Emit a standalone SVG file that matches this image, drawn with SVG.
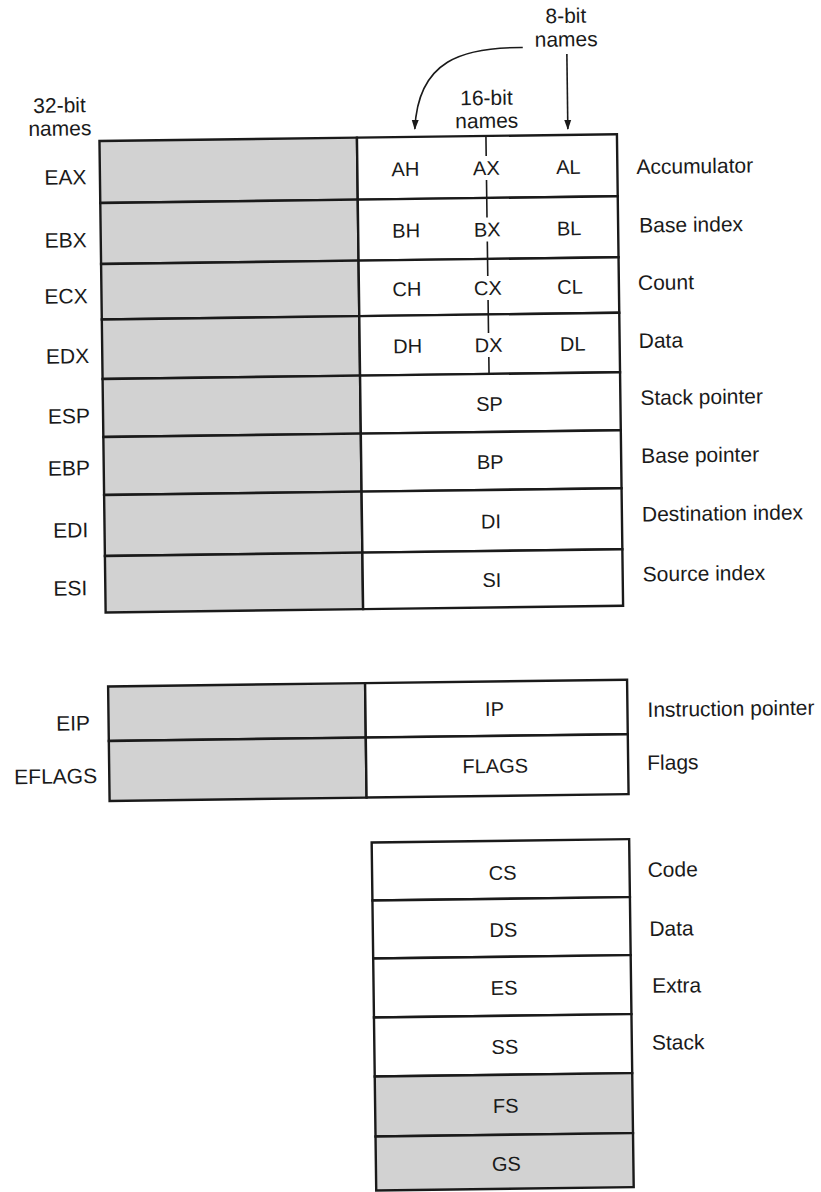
<svg xmlns="http://www.w3.org/2000/svg" width="821" height="1192" viewBox="0 0 821 1192">
<defs>
<style>
.t{font-family:"Liberation Sans",Arial,Helvetica,sans-serif;font-size:21px;fill:#1a1a1a}
.c{text-anchor:middle}
.e{text-anchor:end}
.i{font-size:20px;text-anchor:middle}
.sh{fill:#d2d2d2;stroke:#1a1a1a;stroke-width:2.4}
.wh{fill:#ffffff;stroke:#1a1a1a;stroke-width:2.4}
.vl{stroke:#1a1a1a;stroke-width:1.6;fill:none}
.ar{stroke:#1a1a1a;stroke-width:1.6;fill:none;marker-end:url(#ah)}
</style>
<marker id="ah" viewBox="0 0 10 10" refX="9" refY="5" markerWidth="10" markerHeight="10" markerUnits="userSpaceOnUse" orient="auto">
<path d="M0,1.5 L10,5 L0,8.5 z" fill="#1a1a1a"/>
</marker>
</defs>
<rect x="0" y="0" width="821" height="1192" fill="#ffffff"/>
<g transform="rotate(-0.75 410 600)">
<g id="headings">
<text class="t c" x="66" y="108">32-bit</text>
<text class="t c" x="66" y="131">names</text>
<text class="t c" x="493" y="106">16-bit</text>
<text class="t c" x="493" y="129">names</text>
<text class="t c" x="573.5" y="25">8-bit</text>
<text class="t c" x="573.5" y="48.5">names</text>
</g>
<g id="reg-eax">
<rect class="sh" x="105.5" y="137" width="257.5" height="62"/>
<rect class="wh" x="363" y="137" width="260" height="62"/>
<text class="t e" x="92" y="180">EAX</text>
<text class="t i" x="411" y="176">AH</text>
<text class="t i" x="492" y="176">AX</text>
<text class="t i" x="574" y="176">AL</text>
<text class="t" x="642" y="177">Accumulator</text>
</g>
<g id="reg-ebx">
<rect class="sh" x="105.5" y="199" width="257.5" height="61"/>
<rect class="wh" x="363" y="199" width="260" height="61"/>
<text class="t e" x="91.5" y="243">EBX</text>
<text class="t i" x="411" y="237.5">BH</text>
<text class="t i" x="492" y="237.5">BX</text>
<text class="t i" x="574" y="237.5">BL</text>
<text class="t" x="644" y="235.5">Base index</text>
</g>
<g id="reg-ecx">
<rect class="sh" x="105.5" y="260" width="257.5" height="55.5"/>
<rect class="wh" x="363" y="260" width="260" height="55.5"/>
<text class="t e" x="91.7" y="299">ECX</text>
<text class="t i" x="411" y="296">CH</text>
<text class="t i" x="492" y="296">CX</text>
<text class="t i" x="574" y="296">CL</text>
<text class="t" x="642" y="293">Count</text>
</g>
<g id="reg-edx">
<rect class="sh" x="105.5" y="315.5" width="257.5" height="59.5"/>
<rect class="wh" x="363" y="315.5" width="260" height="59.5"/>
<text class="t e" x="92.3" y="359">EDX</text>
<text class="t i" x="411" y="353">DH</text>
<text class="t i" x="492" y="353">DX</text>
<text class="t i" x="576" y="353">DL</text>
<text class="t" x="642" y="351">Data</text>
</g>
<g id="reg-esp">
<rect class="sh" x="105.5" y="375" width="257.5" height="58"/>
<rect class="wh" x="363" y="375" width="260" height="58"/>
<text class="t e" x="92.3" y="419">ESP</text>
<text class="t i" x="492" y="412">SP</text>
<text class="t" x="643" y="408">Stack pointer</text>
</g>
<g id="reg-ebp">
<rect class="sh" x="105.5" y="433" width="257.5" height="58"/>
<rect class="wh" x="363" y="433" width="260" height="58"/>
<text class="t e" x="91.6" y="471">EBP</text>
<text class="t i" x="492" y="470">BP</text>
<text class="t" x="643" y="466">Base pointer</text>
</g>
<g id="reg-edi">
<rect class="sh" x="105.5" y="491" width="257.5" height="61"/>
<rect class="wh" x="363" y="491" width="260" height="61"/>
<text class="t e" x="89.2" y="533">EDI</text>
<text class="t i" x="492" y="529.5">DI</text>
<text class="t" x="643" y="524.5">Destination index</text>
</g>
<g id="reg-esi">
<rect class="sh" x="105.5" y="552" width="257.5" height="56.5"/>
<rect class="wh" x="363" y="552" width="260" height="56.5"/>
<text class="t e" x="87.5" y="591">ESI</text>
<text class="t i" x="492" y="588">SI</text>
<text class="t" x="643" y="584.5">Source index</text>
</g>
<g id="x-split">
<path class="vl" d="M492 137 V157 M492 181 V218.5 M492 242.5 V277 M492 301 V334 M492 358 V375"/>
</g>
<g id="reg-eip">
<rect class="sh" x="107" y="682.5" width="257" height="54.5"/>
<rect class="wh" x="364" y="682.5" width="262" height="54.5"/>
<text class="t e" x="88.4" y="726">EIP</text>
<text class="t i" x="493" y="717">IP</text>
<text class="t" x="646" y="720">Instruction pointer</text>
</g>
<g id="reg-eflags">
<rect class="sh" x="107" y="737" width="257" height="60"/>
<rect class="wh" x="364" y="737" width="262" height="60"/>
<text class="t e" x="94.8" y="779">EFLAGS</text>
<text class="t i" x="493" y="774">FLAGS</text>
<text class="t" x="645" y="773">Flags</text>
</g>
<g id="reg-cs">
<rect class="wh" x="368.5" y="842" width="257.5" height="58"/>
<text class="t i" x="499" y="881">CS</text>
<text class="t" x="644" y="880">Code</text>
</g>
<g id="reg-ds">
<rect class="wh" x="368.5" y="900" width="257.5" height="58"/>
<text class="t i" x="499" y="938">DS</text>
<text class="t" x="645" y="939">Data</text>
</g>
<g id="reg-es">
<rect class="wh" x="368.5" y="958" width="257.5" height="59"/>
<text class="t i" x="499" y="996">ES</text>
<text class="t" x="647" y="996">Extra</text>
</g>
<g id="reg-ss">
<rect class="wh" x="368.5" y="1017" width="257.5" height="59"/>
<text class="t i" x="499" y="1055">SS</text>
<text class="t" x="646" y="1053">Stack</text>
</g>
<g id="reg-fs">
<rect class="sh" x="368.5" y="1076" width="257.5" height="60"/>
<text class="t i" x="499" y="1114">FS</text>
</g>
<g id="reg-gs">
<rect class="sh" x="368.5" y="1136" width="257.5" height="54"/>
<text class="t i" x="499" y="1172">GS</text>
</g>
<g id="connectors">
<path class="ar" d="M574 56 L574 131"/>
<path class="ar" d="M530 49 C470 48 425 60 421 129"/>
</g>
</g>
</svg>
